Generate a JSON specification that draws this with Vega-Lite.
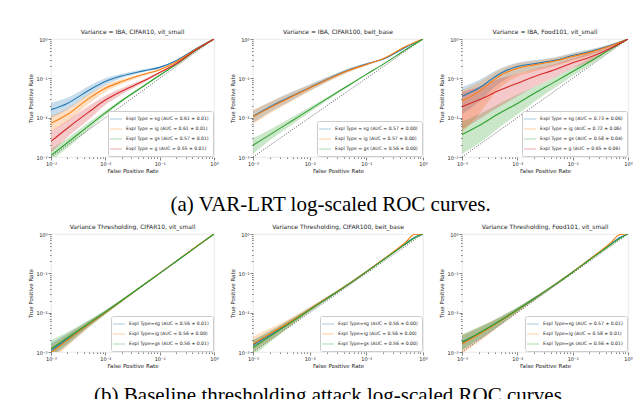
{
  "$schema": "https://vega.github.io/schema/vega-lite/v6.json",
  "background": "white",
  "padding": {"left": 28, "top": 28, "right": 0, "bottom": 0},
  "config": {
    "view": {"stroke": "#e4e4e4", "strokeWidth": 0.8},
    "font": "DejaVu Sans",
    "title": {"font": "DejaVu Sans", "fontSize": 6, "fontWeight": "normal", "offset": 2, "color": "#222"},
    "axis": {"labelFont": "DejaVu Sans", "labelFontSize": 5, "titleFont": "DejaVu Sans", "titleFontSize": 5.5, "titleFontWeight": "normal", "domain": false, "grid": false, "tickColor": "#333", "labelColor": "#222", "titleColor": "#222", "labelPadding": 1, "titlePadding": 2, "tickWidth": 0.6, "labelOverlap": false, "labelBound": false, "labelFlush": false},
    "line": {"interpolate": "monotone"},
    "area": {"interpolate": "monotone"},
    "legend": {"orient": "bottom-right", "offset": 1, "padding": 4, "strokeColor": "#cccccc", "fillColor": "white", "cornerRadius": 2, "labelFont": "DejaVu Sans", "labelFontSize": 4.6, "labelColor": "#222", "symbolType": "M-2,0H2", "symbolSize": 36, "symbolStrokeWidth": 1.5, "labelOffset": 6, "rowPadding": 3, "labelLimit": 300}
  },
  "datasets": {
    "diag": [{"f": 0.001, "t": 0.001}, {"f": 1, "t": 1}],
    "a1": [
      {"s": "Expl Type = sg (AUC = 0.61 ± 0.01)", "f": 0.001, "t": 0.016, "lo": 0.010, "hi": 0.024},
      {"s": "Expl Type = sg (AUC = 0.61 ± 0.01)", "f": 0.002, "t": 0.023, "lo": 0.016, "hi": 0.032},
      {"s": "Expl Type = sg (AUC = 0.61 ± 0.01)", "f": 0.005, "t": 0.050, "lo": 0.038, "hi": 0.064},
      {"s": "Expl Type = sg (AUC = 0.61 ± 0.01)", "f": 0.01, "t": 0.083, "lo": 0.068, "hi": 0.100},
      {"s": "Expl Type = sg (AUC = 0.61 ± 0.01)", "f": 0.02, "t": 0.115, "lo": 0.100, "hi": 0.130},
      {"s": "Expl Type = sg (AUC = 0.61 ± 0.01)", "f": 0.05, "t": 0.155, "lo": 0.145, "hi": 0.170},
      {"s": "Expl Type = sg (AUC = 0.61 ± 0.01)", "f": 0.1, "t": 0.190, "lo": 0.180, "hi": 0.200},
      {"s": "Expl Type = sg (AUC = 0.61 ± 0.01)", "f": 0.2, "t": 0.280, "lo": 0.270, "hi": 0.290},
      {"s": "Expl Type = sg (AUC = 0.61 ± 0.01)", "f": 0.5, "t": 0.600, "lo": 0.590, "hi": 0.610},
      {"s": "Expl Type = sg (AUC = 0.61 ± 0.01)", "f": 1, "t": 1, "lo": 1, "hi": 1},
      {"s": "Expl Type = ig (AUC = 0.61 ± 0.01)", "f": 0.001, "t": 0.0072, "lo": 0.0045, "hi": 0.011},
      {"s": "Expl Type = ig (AUC = 0.61 ± 0.01)", "f": 0.002, "t": 0.012, "lo": 0.008, "hi": 0.017},
      {"s": "Expl Type = ig (AUC = 0.61 ± 0.01)", "f": 0.005, "t": 0.031, "lo": 0.023, "hi": 0.040},
      {"s": "Expl Type = ig (AUC = 0.61 ± 0.01)", "f": 0.01, "t": 0.056, "lo": 0.045, "hi": 0.068},
      {"s": "Expl Type = ig (AUC = 0.61 ± 0.01)", "f": 0.02, "t": 0.083, "lo": 0.072, "hi": 0.095},
      {"s": "Expl Type = ig (AUC = 0.61 ± 0.01)", "f": 0.05, "t": 0.125, "lo": 0.115, "hi": 0.135},
      {"s": "Expl Type = ig (AUC = 0.61 ± 0.01)", "f": 0.1, "t": 0.165, "lo": 0.157, "hi": 0.175},
      {"s": "Expl Type = ig (AUC = 0.61 ± 0.01)", "f": 0.2, "t": 0.260, "lo": 0.250, "hi": 0.270},
      {"s": "Expl Type = ig (AUC = 0.61 ± 0.01)", "f": 0.5, "t": 0.580, "lo": 0.570, "hi": 0.590},
      {"s": "Expl Type = ig (AUC = 0.61 ± 0.01)", "f": 1, "t": 1, "lo": 1, "hi": 1},
      {"s": "Expl Type = gs (AUC = 0.57 ± 0.01)", "f": 0.001, "t": 0.0011, "lo": 0.0008, "hi": 0.0016},
      {"s": "Expl Type = gs (AUC = 0.57 ± 0.01)", "f": 0.002, "t": 0.0023, "lo": 0.0017, "hi": 0.0030},
      {"s": "Expl Type = gs (AUC = 0.57 ± 0.01)", "f": 0.005, "t": 0.0063, "lo": 0.0051, "hi": 0.0077},
      {"s": "Expl Type = gs (AUC = 0.57 ± 0.01)", "f": 0.01, "t": 0.0132, "lo": 0.0115, "hi": 0.0150},
      {"s": "Expl Type = gs (AUC = 0.57 ± 0.01)", "f": 0.02, "t": 0.027, "lo": 0.0245, "hi": 0.0295},
      {"s": "Expl Type = gs (AUC = 0.57 ± 0.01)", "f": 0.05, "t": 0.063, "lo": 0.059, "hi": 0.067},
      {"s": "Expl Type = gs (AUC = 0.57 ± 0.01)", "f": 0.1, "t": 0.120, "lo": 0.115, "hi": 0.125},
      {"s": "Expl Type = gs (AUC = 0.57 ± 0.01)", "f": 0.2, "t": 0.225, "lo": 0.220, "hi": 0.230},
      {"s": "Expl Type = gs (AUC = 0.57 ± 0.01)", "f": 0.5, "t": 0.550, "lo": 0.545, "hi": 0.555},
      {"s": "Expl Type = gs (AUC = 0.57 ± 0.01)", "f": 1, "t": 1, "lo": 1, "hi": 1},
      {"s": "Expl Type = g (AUC = 0.55 ± 0.01)", "f": 0.001, "t": 0.0025, "lo": 0.0013, "hi": 0.0045},
      {"s": "Expl Type = g (AUC = 0.55 ± 0.01)", "f": 0.002, "t": 0.0054, "lo": 0.0032, "hi": 0.0085},
      {"s": "Expl Type = g (AUC = 0.55 ± 0.01)", "f": 0.005, "t": 0.014, "lo": 0.009, "hi": 0.020},
      {"s": "Expl Type = g (AUC = 0.55 ± 0.01)", "f": 0.01, "t": 0.028, "lo": 0.021, "hi": 0.036},
      {"s": "Expl Type = g (AUC = 0.55 ± 0.01)", "f": 0.02, "t": 0.047, "lo": 0.039, "hi": 0.056},
      {"s": "Expl Type = g (AUC = 0.55 ± 0.01)", "f": 0.05, "t": 0.085, "lo": 0.077, "hi": 0.093},
      {"s": "Expl Type = g (AUC = 0.55 ± 0.01)", "f": 0.1, "t": 0.140, "lo": 0.132, "hi": 0.148},
      {"s": "Expl Type = g (AUC = 0.55 ± 0.01)", "f": 0.2, "t": 0.235, "lo": 0.227, "hi": 0.243},
      {"s": "Expl Type = g (AUC = 0.55 ± 0.01)", "f": 0.5, "t": 0.565, "lo": 0.555, "hi": 0.575},
      {"s": "Expl Type = g (AUC = 0.55 ± 0.01)", "f": 1, "t": 1, "lo": 1, "hi": 1}
    ],
    "a2": [
      {"s": "Expl Type = sg (AUC = 0.57 ± 0.00)", "f": 0.001, "t": 0.0107, "lo": 0.0075, "hi": 0.015},
      {"s": "Expl Type = sg (AUC = 0.57 ± 0.00)", "f": 0.002, "t": 0.019, "lo": 0.014, "hi": 0.025},
      {"s": "Expl Type = sg (AUC = 0.57 ± 0.00)", "f": 0.005, "t": 0.036, "lo": 0.028, "hi": 0.046},
      {"s": "Expl Type = sg (AUC = 0.57 ± 0.00)", "f": 0.01, "t": 0.058, "lo": 0.048, "hi": 0.070},
      {"s": "Expl Type = sg (AUC = 0.57 ± 0.00)", "f": 0.02, "t": 0.094, "lo": 0.081, "hi": 0.108},
      {"s": "Expl Type = sg (AUC = 0.57 ± 0.00)", "f": 0.05, "t": 0.165, "lo": 0.150, "hi": 0.180},
      {"s": "Expl Type = sg (AUC = 0.57 ± 0.00)", "f": 0.1, "t": 0.230, "lo": 0.215, "hi": 0.245},
      {"s": "Expl Type = sg (AUC = 0.57 ± 0.00)", "f": 0.2, "t": 0.310, "lo": 0.300, "hi": 0.320},
      {"s": "Expl Type = sg (AUC = 0.57 ± 0.00)", "f": 0.5, "t": 0.620, "lo": 0.610, "hi": 0.630},
      {"s": "Expl Type = sg (AUC = 0.57 ± 0.00)", "f": 1, "t": 1, "lo": 1, "hi": 1},
      {"s": "Expl Type = ig (AUC = 0.57 ± 0.00)", "f": 0.001, "t": 0.0105, "lo": 0.007, "hi": 0.016},
      {"s": "Expl Type = ig (AUC = 0.57 ± 0.00)", "f": 0.002, "t": 0.018, "lo": 0.013, "hi": 0.025},
      {"s": "Expl Type = ig (AUC = 0.57 ± 0.00)", "f": 0.005, "t": 0.035, "lo": 0.027, "hi": 0.045},
      {"s": "Expl Type = ig (AUC = 0.57 ± 0.00)", "f": 0.01, "t": 0.057, "lo": 0.047, "hi": 0.069},
      {"s": "Expl Type = ig (AUC = 0.57 ± 0.00)", "f": 0.02, "t": 0.091, "lo": 0.079, "hi": 0.104},
      {"s": "Expl Type = ig (AUC = 0.57 ± 0.00)", "f": 0.05, "t": 0.160, "lo": 0.145, "hi": 0.175},
      {"s": "Expl Type = ig (AUC = 0.57 ± 0.00)", "f": 0.1, "t": 0.225, "lo": 0.210, "hi": 0.240},
      {"s": "Expl Type = ig (AUC = 0.57 ± 0.00)", "f": 0.2, "t": 0.320, "lo": 0.310, "hi": 0.330},
      {"s": "Expl Type = ig (AUC = 0.57 ± 0.00)", "f": 0.5, "t": 0.650, "lo": 0.640, "hi": 0.660},
      {"s": "Expl Type = ig (AUC = 0.57 ± 0.00)", "f": 1, "t": 1, "lo": 1, "hi": 1},
      {"s": "Expl Type = gs (AUC = 0.56 ± 0.00)", "f": 0.001, "t": 0.0020, "lo": 0.0012, "hi": 0.0030},
      {"s": "Expl Type = gs (AUC = 0.56 ± 0.00)", "f": 0.002, "t": 0.0037, "lo": 0.0027, "hi": 0.0050},
      {"s": "Expl Type = gs (AUC = 0.56 ± 0.00)", "f": 0.005, "t": 0.0085, "lo": 0.0068, "hi": 0.0105},
      {"s": "Expl Type = gs (AUC = 0.56 ± 0.00)", "f": 0.01, "t": 0.016, "lo": 0.0138, "hi": 0.0185},
      {"s": "Expl Type = gs (AUC = 0.56 ± 0.00)", "f": 0.02, "t": 0.030, "lo": 0.027, "hi": 0.033},
      {"s": "Expl Type = gs (AUC = 0.56 ± 0.00)", "f": 0.05, "t": 0.068, "lo": 0.064, "hi": 0.072},
      {"s": "Expl Type = gs (AUC = 0.56 ± 0.00)", "f": 0.1, "t": 0.126, "lo": 0.121, "hi": 0.131},
      {"s": "Expl Type = gs (AUC = 0.56 ± 0.00)", "f": 0.2, "t": 0.230, "lo": 0.225, "hi": 0.235},
      {"s": "Expl Type = gs (AUC = 0.56 ± 0.00)", "f": 0.5, "t": 0.540, "lo": 0.535, "hi": 0.545},
      {"s": "Expl Type = gs (AUC = 0.56 ± 0.00)", "f": 1, "t": 1, "lo": 1, "hi": 1}
    ],
    "a3": [
      {"s": "Expl Type = sg (AUC = 0.73 ± 0.06)", "f": 0.001, "t": 0.035, "lo": 0.012, "hi": 0.060},
      {"s": "Expl Type = sg (AUC = 0.73 ± 0.06)", "f": 0.002, "t": 0.056, "lo": 0.025, "hi": 0.090},
      {"s": "Expl Type = sg (AUC = 0.73 ± 0.06)", "f": 0.005, "t": 0.135, "lo": 0.080, "hi": 0.180},
      {"s": "Expl Type = sg (AUC = 0.73 ± 0.06)", "f": 0.01, "t": 0.200, "lo": 0.130, "hi": 0.250},
      {"s": "Expl Type = sg (AUC = 0.73 ± 0.06)", "f": 0.02, "t": 0.235, "lo": 0.165, "hi": 0.290},
      {"s": "Expl Type = sg (AUC = 0.73 ± 0.06)", "f": 0.05, "t": 0.290, "lo": 0.220, "hi": 0.350},
      {"s": "Expl Type = sg (AUC = 0.73 ± 0.06)", "f": 0.1, "t": 0.380, "lo": 0.300, "hi": 0.450},
      {"s": "Expl Type = sg (AUC = 0.73 ± 0.06)", "f": 0.2, "t": 0.470, "lo": 0.390, "hi": 0.540},
      {"s": "Expl Type = sg (AUC = 0.73 ± 0.06)", "f": 0.5, "t": 0.700, "lo": 0.640, "hi": 0.750},
      {"s": "Expl Type = sg (AUC = 0.73 ± 0.06)", "f": 1, "t": 1, "lo": 1, "hi": 1},
      {"s": "Expl Type = ig (AUC = 0.72 ± 0.06)", "f": 0.001, "t": 0.026, "lo": 0.004, "hi": 0.050},
      {"s": "Expl Type = ig (AUC = 0.72 ± 0.06)", "f": 0.002, "t": 0.046, "lo": 0.012, "hi": 0.080},
      {"s": "Expl Type = ig (AUC = 0.72 ± 0.06)", "f": 0.005, "t": 0.120, "lo": 0.060, "hi": 0.170},
      {"s": "Expl Type = ig (AUC = 0.72 ± 0.06)", "f": 0.01, "t": 0.180, "lo": 0.110, "hi": 0.240},
      {"s": "Expl Type = ig (AUC = 0.72 ± 0.06)", "f": 0.02, "t": 0.220, "lo": 0.150, "hi": 0.275},
      {"s": "Expl Type = ig (AUC = 0.72 ± 0.06)", "f": 0.05, "t": 0.280, "lo": 0.210, "hi": 0.340},
      {"s": "Expl Type = ig (AUC = 0.72 ± 0.06)", "f": 0.1, "t": 0.360, "lo": 0.280, "hi": 0.430},
      {"s": "Expl Type = ig (AUC = 0.72 ± 0.06)", "f": 0.2, "t": 0.450, "lo": 0.370, "hi": 0.520},
      {"s": "Expl Type = ig (AUC = 0.72 ± 0.06)", "f": 0.5, "t": 0.680, "lo": 0.620, "hi": 0.730},
      {"s": "Expl Type = ig (AUC = 0.72 ± 0.06)", "f": 1, "t": 1, "lo": 1, "hi": 1},
      {"s": "Expl Type = gs (AUC = 0.58 ± 0.04)", "f": 0.001, "t": 0.0037, "lo": 0.0012, "hi": 0.008},
      {"s": "Expl Type = gs (AUC = 0.58 ± 0.04)", "f": 0.002, "t": 0.0062, "lo": 0.0022, "hi": 0.012},
      {"s": "Expl Type = gs (AUC = 0.58 ± 0.04)", "f": 0.005, "t": 0.0135, "lo": 0.006, "hi": 0.024},
      {"s": "Expl Type = gs (AUC = 0.58 ± 0.04)", "f": 0.01, "t": 0.023, "lo": 0.012, "hi": 0.038},
      {"s": "Expl Type = gs (AUC = 0.58 ± 0.04)", "f": 0.02, "t": 0.041, "lo": 0.025, "hi": 0.060},
      {"s": "Expl Type = gs (AUC = 0.58 ± 0.04)", "f": 0.05, "t": 0.085, "lo": 0.060, "hi": 0.110},
      {"s": "Expl Type = gs (AUC = 0.58 ± 0.04)", "f": 0.1, "t": 0.150, "lo": 0.115, "hi": 0.185},
      {"s": "Expl Type = gs (AUC = 0.58 ± 0.04)", "f": 0.2, "t": 0.260, "lo": 0.210, "hi": 0.310},
      {"s": "Expl Type = gs (AUC = 0.58 ± 0.04)", "f": 0.5, "t": 0.570, "lo": 0.510, "hi": 0.620},
      {"s": "Expl Type = gs (AUC = 0.58 ± 0.04)", "f": 1, "t": 1, "lo": 1, "hi": 1},
      {"s": "Expl Type = g (AUC = 0.65 ± 0.06)", "f": 0.001, "t": 0.019, "lo": 0.005, "hi": 0.045},
      {"s": "Expl Type = g (AUC = 0.65 ± 0.06)", "f": 0.002, "t": 0.028, "lo": 0.009, "hi": 0.060},
      {"s": "Expl Type = g (AUC = 0.65 ± 0.06)", "f": 0.005, "t": 0.051, "lo": 0.020, "hi": 0.100},
      {"s": "Expl Type = g (AUC = 0.65 ± 0.06)", "f": 0.01, "t": 0.075, "lo": 0.035, "hi": 0.130},
      {"s": "Expl Type = g (AUC = 0.65 ± 0.06)", "f": 0.02, "t": 0.110, "lo": 0.060, "hi": 0.170},
      {"s": "Expl Type = g (AUC = 0.65 ± 0.06)", "f": 0.05, "t": 0.170, "lo": 0.110, "hi": 0.230},
      {"s": "Expl Type = g (AUC = 0.65 ± 0.06)", "f": 0.1, "t": 0.250, "lo": 0.180, "hi": 0.320},
      {"s": "Expl Type = g (AUC = 0.65 ± 0.06)", "f": 0.2, "t": 0.340, "lo": 0.260, "hi": 0.420},
      {"s": "Expl Type = g (AUC = 0.65 ± 0.06)", "f": 0.5, "t": 0.600, "lo": 0.530, "hi": 0.670},
      {"s": "Expl Type = g (AUC = 0.65 ± 0.06)", "f": 1, "t": 1, "lo": 1, "hi": 1}
    ],
    "b1": [
      {"s": "Expl Type=sg (AUC = 0.56 ± 0.01)", "f": 0.001, "t": 0.0011, "lo": 0.0007, "hi": 0.0017},
      {"s": "Expl Type=sg (AUC = 0.56 ± 0.01)", "f": 0.002, "t": 0.0021, "lo": 0.0015, "hi": 0.0029},
      {"s": "Expl Type=sg (AUC = 0.56 ± 0.01)", "f": 0.005, "t": 0.0052, "lo": 0.0043, "hi": 0.0063},
      {"s": "Expl Type=sg (AUC = 0.56 ± 0.01)", "f": 0.01, "t": 0.0102, "lo": 0.0091, "hi": 0.0114},
      {"s": "Expl Type=sg (AUC = 0.56 ± 0.01)", "f": 0.02, "t": 0.0202, "lo": 0.0188, "hi": 0.0216},
      {"s": "Expl Type=sg (AUC = 0.56 ± 0.01)", "f": 0.05, "t": 0.050, "lo": 0.0485, "hi": 0.0515},
      {"s": "Expl Type=sg (AUC = 0.56 ± 0.01)", "f": 0.1, "t": 0.100, "lo": 0.098, "hi": 0.102},
      {"s": "Expl Type=sg (AUC = 0.56 ± 0.01)", "f": 0.2, "t": 0.200, "lo": 0.197, "hi": 0.203},
      {"s": "Expl Type=sg (AUC = 0.56 ± 0.01)", "f": 0.5, "t": 0.500, "lo": 0.495, "hi": 0.505},
      {"s": "Expl Type=sg (AUC = 0.56 ± 0.01)", "f": 1, "t": 1, "lo": 1, "hi": 1},
      {"s": "Expl Type=ig (AUC = 0.56 ± 0.00)", "f": 0.001, "t": 0.00095, "lo": 0.0006, "hi": 0.0015},
      {"s": "Expl Type=ig (AUC = 0.56 ± 0.00)", "f": 0.002, "t": 0.0020, "lo": 0.0014, "hi": 0.0028},
      {"s": "Expl Type=ig (AUC = 0.56 ± 0.00)", "f": 0.005, "t": 0.0051, "lo": 0.0042, "hi": 0.0062},
      {"s": "Expl Type=ig (AUC = 0.56 ± 0.00)", "f": 0.01, "t": 0.0101, "lo": 0.0090, "hi": 0.0113},
      {"s": "Expl Type=ig (AUC = 0.56 ± 0.00)", "f": 0.02, "t": 0.0201, "lo": 0.0187, "hi": 0.0215},
      {"s": "Expl Type=ig (AUC = 0.56 ± 0.00)", "f": 0.05, "t": 0.0502, "lo": 0.0487, "hi": 0.0517},
      {"s": "Expl Type=ig (AUC = 0.56 ± 0.00)", "f": 0.1, "t": 0.101, "lo": 0.099, "hi": 0.103},
      {"s": "Expl Type=ig (AUC = 0.56 ± 0.00)", "f": 0.2, "t": 0.202, "lo": 0.199, "hi": 0.205},
      {"s": "Expl Type=ig (AUC = 0.56 ± 0.00)", "f": 0.5, "t": 0.510, "lo": 0.505, "hi": 0.515},
      {"s": "Expl Type=ig (AUC = 0.56 ± 0.00)", "f": 1, "t": 1, "lo": 1, "hi": 1},
      {"s": "Expl Type=gs (AUC = 0.56 ± 0.01)", "f": 0.001, "t": 0.0012, "lo": 0.0008, "hi": 0.0020},
      {"s": "Expl Type=gs (AUC = 0.56 ± 0.01)", "f": 0.002, "t": 0.0023, "lo": 0.0016, "hi": 0.0032},
      {"s": "Expl Type=gs (AUC = 0.56 ± 0.01)", "f": 0.005, "t": 0.0054, "lo": 0.0045, "hi": 0.0065},
      {"s": "Expl Type=gs (AUC = 0.56 ± 0.01)", "f": 0.01, "t": 0.0104, "lo": 0.0093, "hi": 0.0116},
      {"s": "Expl Type=gs (AUC = 0.56 ± 0.01)", "f": 0.02, "t": 0.0204, "lo": 0.0190, "hi": 0.0218},
      {"s": "Expl Type=gs (AUC = 0.56 ± 0.01)", "f": 0.05, "t": 0.0505, "lo": 0.049, "hi": 0.052},
      {"s": "Expl Type=gs (AUC = 0.56 ± 0.01)", "f": 0.1, "t": 0.100, "lo": 0.098, "hi": 0.102},
      {"s": "Expl Type=gs (AUC = 0.56 ± 0.01)", "f": 0.2, "t": 0.200, "lo": 0.197, "hi": 0.203},
      {"s": "Expl Type=gs (AUC = 0.56 ± 0.01)", "f": 0.5, "t": 0.500, "lo": 0.495, "hi": 0.505},
      {"s": "Expl Type=gs (AUC = 0.56 ± 0.01)", "f": 1, "t": 1, "lo": 1, "hi": 1}
    ],
    "b2": [
      {"s": "Expl Type=sg (AUC = 0.56 ± 0.00)", "f": 0.001, "t": 0.0015, "lo": 0.0011, "hi": 0.0020},
      {"s": "Expl Type=sg (AUC = 0.56 ± 0.00)", "f": 0.002, "t": 0.0027, "lo": 0.0021, "hi": 0.0034},
      {"s": "Expl Type=sg (AUC = 0.56 ± 0.00)", "f": 0.005, "t": 0.0062, "lo": 0.0052, "hi": 0.0073},
      {"s": "Expl Type=sg (AUC = 0.56 ± 0.00)", "f": 0.01, "t": 0.012, "lo": 0.0107, "hi": 0.0134},
      {"s": "Expl Type=sg (AUC = 0.56 ± 0.00)", "f": 0.02, "t": 0.023, "lo": 0.021, "hi": 0.025},
      {"s": "Expl Type=sg (AUC = 0.56 ± 0.00)", "f": 0.05, "t": 0.055, "lo": 0.052, "hi": 0.058},
      {"s": "Expl Type=sg (AUC = 0.56 ± 0.00)", "f": 0.1, "t": 0.110, "lo": 0.106, "hi": 0.114},
      {"s": "Expl Type=sg (AUC = 0.56 ± 0.00)", "f": 0.2, "t": 0.225, "lo": 0.220, "hi": 0.230},
      {"s": "Expl Type=sg (AUC = 0.56 ± 0.00)", "f": 0.5, "t": 0.580, "lo": 0.570, "hi": 0.590},
      {"s": "Expl Type=sg (AUC = 0.56 ± 0.00)", "f": 0.7, "t": 0.820, "lo": 0.810, "hi": 0.830},
      {"s": "Expl Type=sg (AUC = 0.56 ± 0.00)", "f": 1, "t": 1, "lo": 1, "hi": 1},
      {"s": "Expl Type=ig (AUC = 0.56 ± 0.00)", "f": 0.001, "t": 0.0016, "lo": 0.0010, "hi": 0.0025},
      {"s": "Expl Type=ig (AUC = 0.56 ± 0.00)", "f": 0.002, "t": 0.0029, "lo": 0.0020, "hi": 0.0040},
      {"s": "Expl Type=ig (AUC = 0.56 ± 0.00)", "f": 0.005, "t": 0.0064, "lo": 0.0050, "hi": 0.0078},
      {"s": "Expl Type=ig (AUC = 0.56 ± 0.00)", "f": 0.01, "t": 0.0122, "lo": 0.0105, "hi": 0.0140},
      {"s": "Expl Type=ig (AUC = 0.56 ± 0.00)", "f": 0.02, "t": 0.0232, "lo": 0.021, "hi": 0.0255},
      {"s": "Expl Type=ig (AUC = 0.56 ± 0.00)", "f": 0.05, "t": 0.055, "lo": 0.052, "hi": 0.058},
      {"s": "Expl Type=ig (AUC = 0.56 ± 0.00)", "f": 0.1, "t": 0.110, "lo": 0.106, "hi": 0.114},
      {"s": "Expl Type=ig (AUC = 0.56 ± 0.00)", "f": 0.2, "t": 0.228, "lo": 0.222, "hi": 0.234},
      {"s": "Expl Type=ig (AUC = 0.56 ± 0.00)", "f": 0.5, "t": 0.630, "lo": 0.620, "hi": 0.640},
      {"s": "Expl Type=ig (AUC = 0.56 ± 0.00)", "f": 0.7, "t": 0.970, "lo": 0.960, "hi": 0.980},
      {"s": "Expl Type=ig (AUC = 0.56 ± 0.00)", "f": 1, "t": 1, "lo": 1, "hi": 1},
      {"s": "Expl Type=gs (AUC = 0.56 ± 0.00)", "f": 0.001, "t": 0.0013, "lo": 0.0008, "hi": 0.0020},
      {"s": "Expl Type=gs (AUC = 0.56 ± 0.00)", "f": 0.002, "t": 0.0025, "lo": 0.0018, "hi": 0.0033},
      {"s": "Expl Type=gs (AUC = 0.56 ± 0.00)", "f": 0.005, "t": 0.0060, "lo": 0.0050, "hi": 0.0072},
      {"s": "Expl Type=gs (AUC = 0.56 ± 0.00)", "f": 0.01, "t": 0.0118, "lo": 0.0105, "hi": 0.0132},
      {"s": "Expl Type=gs (AUC = 0.56 ± 0.00)", "f": 0.02, "t": 0.0228, "lo": 0.021, "hi": 0.0248},
      {"s": "Expl Type=gs (AUC = 0.56 ± 0.00)", "f": 0.05, "t": 0.054, "lo": 0.051, "hi": 0.057},
      {"s": "Expl Type=gs (AUC = 0.56 ± 0.00)", "f": 0.1, "t": 0.109, "lo": 0.105, "hi": 0.113},
      {"s": "Expl Type=gs (AUC = 0.56 ± 0.00)", "f": 0.2, "t": 0.222, "lo": 0.217, "hi": 0.227},
      {"s": "Expl Type=gs (AUC = 0.56 ± 0.00)", "f": 0.5, "t": 0.560, "lo": 0.550, "hi": 0.570},
      {"s": "Expl Type=gs (AUC = 0.56 ± 0.00)", "f": 0.7, "t": 0.780, "lo": 0.770, "hi": 0.790},
      {"s": "Expl Type=gs (AUC = 0.56 ± 0.00)", "f": 1, "t": 1, "lo": 1, "hi": 1}
    ],
    "b3": [
      {"s": "Expl Type=sg (AUC = 0.57 ± 0.01)", "f": 0.001, "t": 0.0017, "lo": 0.0011, "hi": 0.0026},
      {"s": "Expl Type=sg (AUC = 0.57 ± 0.01)", "f": 0.002, "t": 0.0029, "lo": 0.0020, "hi": 0.0041},
      {"s": "Expl Type=sg (AUC = 0.57 ± 0.01)", "f": 0.005, "t": 0.0063, "lo": 0.0050, "hi": 0.0078},
      {"s": "Expl Type=sg (AUC = 0.57 ± 0.01)", "f": 0.01, "t": 0.0118, "lo": 0.0103, "hi": 0.0135},
      {"s": "Expl Type=sg (AUC = 0.57 ± 0.01)", "f": 0.02, "t": 0.0225, "lo": 0.0205, "hi": 0.0247},
      {"s": "Expl Type=sg (AUC = 0.57 ± 0.01)", "f": 0.05, "t": 0.054, "lo": 0.051, "hi": 0.057},
      {"s": "Expl Type=sg (AUC = 0.57 ± 0.01)", "f": 0.1, "t": 0.108, "lo": 0.104, "hi": 0.112},
      {"s": "Expl Type=sg (AUC = 0.57 ± 0.01)", "f": 0.2, "t": 0.222, "lo": 0.217, "hi": 0.227},
      {"s": "Expl Type=sg (AUC = 0.57 ± 0.01)", "f": 0.5, "t": 0.570, "lo": 0.560, "hi": 0.580},
      {"s": "Expl Type=sg (AUC = 0.57 ± 0.01)", "f": 0.7, "t": 0.800, "lo": 0.790, "hi": 0.810},
      {"s": "Expl Type=sg (AUC = 0.57 ± 0.01)", "f": 1, "t": 1, "lo": 1, "hi": 1},
      {"s": "Expl Type=ig (AUC = 0.58 ± 0.01)", "f": 0.001, "t": 0.0016, "lo": 0.0009, "hi": 0.0027},
      {"s": "Expl Type=ig (AUC = 0.58 ± 0.01)", "f": 0.002, "t": 0.0028, "lo": 0.0018, "hi": 0.0042},
      {"s": "Expl Type=ig (AUC = 0.58 ± 0.01)", "f": 0.005, "t": 0.0062, "lo": 0.0048, "hi": 0.0079},
      {"s": "Expl Type=ig (AUC = 0.58 ± 0.01)", "f": 0.01, "t": 0.0117, "lo": 0.0100, "hi": 0.0136},
      {"s": "Expl Type=ig (AUC = 0.58 ± 0.01)", "f": 0.02, "t": 0.0224, "lo": 0.0203, "hi": 0.0247},
      {"s": "Expl Type=ig (AUC = 0.58 ± 0.01)", "f": 0.05, "t": 0.054, "lo": 0.051, "hi": 0.057},
      {"s": "Expl Type=ig (AUC = 0.58 ± 0.01)", "f": 0.1, "t": 0.108, "lo": 0.104, "hi": 0.112},
      {"s": "Expl Type=ig (AUC = 0.58 ± 0.01)", "f": 0.2, "t": 0.225, "lo": 0.219, "hi": 0.231},
      {"s": "Expl Type=ig (AUC = 0.58 ± 0.01)", "f": 0.5, "t": 0.620, "lo": 0.610, "hi": 0.630},
      {"s": "Expl Type=ig (AUC = 0.58 ± 0.01)", "f": 0.7, "t": 0.960, "lo": 0.950, "hi": 0.970},
      {"s": "Expl Type=ig (AUC = 0.58 ± 0.01)", "f": 1, "t": 1, "lo": 1, "hi": 1},
      {"s": "Expl Type=gs (AUC = 0.56 ± 0.01)", "f": 0.001, "t": 0.0018, "lo": 0.0011, "hi": 0.0028},
      {"s": "Expl Type=gs (AUC = 0.56 ± 0.01)", "f": 0.002, "t": 0.0030, "lo": 0.0021, "hi": 0.0043},
      {"s": "Expl Type=gs (AUC = 0.56 ± 0.01)", "f": 0.005, "t": 0.0064, "lo": 0.0051, "hi": 0.0080},
      {"s": "Expl Type=gs (AUC = 0.56 ± 0.01)", "f": 0.01, "t": 0.0119, "lo": 0.0104, "hi": 0.0137},
      {"s": "Expl Type=gs (AUC = 0.56 ± 0.01)", "f": 0.02, "t": 0.0226, "lo": 0.0206, "hi": 0.0248},
      {"s": "Expl Type=gs (AUC = 0.56 ± 0.01)", "f": 0.05, "t": 0.054, "lo": 0.051, "hi": 0.057},
      {"s": "Expl Type=gs (AUC = 0.56 ± 0.01)", "f": 0.1, "t": 0.107, "lo": 0.103, "hi": 0.111},
      {"s": "Expl Type=gs (AUC = 0.56 ± 0.01)", "f": 0.2, "t": 0.218, "lo": 0.213, "hi": 0.223},
      {"s": "Expl Type=gs (AUC = 0.56 ± 0.01)", "f": 0.5, "t": 0.550, "lo": 0.540, "hi": 0.560},
      {"s": "Expl Type=gs (AUC = 0.56 ± 0.01)", "f": 0.7, "t": 0.760, "lo": 0.750, "hi": 0.770},
      {"s": "Expl Type=gs (AUC = 0.56 ± 0.01)", "f": 1, "t": 1, "lo": 1, "hi": 1}
    ]
  },
  "vconcat": [
    {
      "title": {"text": "(a) VAR-LRT log-scaled ROC curves.", "orient": "bottom", "anchor": "middle", "font": "Liberation Serif", "fontSize": 21, "fontWeight": "normal", "color": "black", "offset": 20},
      "spacing": 11,
      "resolve": {"scale": {"stroke": "independent", "fill": "independent"}, "legend": {"stroke": "independent", "fill": "independent"}},
      "hconcat": [
        {
          "width": 163, "height": 118,
          "title": "Variance = IBA, CIFAR10, vit_small",
          "data": {"name": "a1"},
          "encoding": {"x": {"field": "f", "type": "quantitative", "scale": {"type": "log", "domain": [0.001, 1]}, "axis": {"title": "False Positive Rate", "values": [0.001,0.002,0.003,0.004,0.005,0.006,0.007,0.008,0.009,0.01,0.02,0.03,0.04,0.05,0.06,0.07,0.08,0.09,0.1,0.2,0.3,0.4,0.5,0.6,0.7,0.8,0.9,1], "labelExpr": "datum.value == 1 ? '10⁰' : datum.value == 0.1 ? '10⁻¹' : datum.value == 0.01 ? '10⁻²' : datum.value == 0.001 ? '10⁻³' : ''", "tickSize": {"condition": {"test": "indexof([0.001,0.01,0.1,1], datum.value) >= 0", "value": 3}, "value": 1.5}}}},
          "layer": [
            {"data": {"name": "diag"}, "mark": {"type": "line", "color": "#333", "strokeDash": [1, 1.5], "strokeWidth": 0.8, "interpolate": "linear"}, "encoding": {"y": {"field": "t", "type": "quantitative", "scale": {"type": "log", "domain": [0.001, 1]}, "axis": {"title": "True Positive Rate", "values": [0.001,0.002,0.003,0.004,0.005,0.006,0.007,0.008,0.009,0.01,0.02,0.03,0.04,0.05,0.06,0.07,0.08,0.09,0.1,0.2,0.3,0.4,0.5,0.6,0.7,0.8,0.9,1], "labelExpr": "datum.value == 1 ? '10⁰' : datum.value == 0.1 ? '10⁻¹' : datum.value == 0.01 ? '10⁻²' : datum.value == 0.001 ? '10⁻³' : ''", "tickSize": {"condition": {"test": "indexof([0.001,0.01,0.1,1], datum.value) >= 0", "value": 3}, "value": 1.5}}}}},
            {"mark": {"type": "area", "opacity": 0.25, "clip": true}, "encoding": {"y": {"field": "lo", "type": "quantitative"}, "y2": {"field": "hi"}, "fill": {"field": "s", "type": "nominal", "scale": {"domain": ["Expl Type = sg (AUC = 0.61 ± 0.01)", "Expl Type = ig (AUC = 0.61 ± 0.01)", "Expl Type = gs (AUC = 0.57 ± 0.01)", "Expl Type = g (AUC = 0.55 ± 0.01)"], "range": ["#1f77b4", "#ff7f0e", "#2ca02c", "#d62728"]}, "legend": {"title": null}}}},
            {"mark": {"type": "line", "strokeWidth": 1.1, "clip": true}, "encoding": {"y": {"field": "t", "type": "quantitative"}, "stroke": {"field": "s", "type": "nominal", "scale": {"domain": ["Expl Type = sg (AUC = 0.61 ± 0.01)", "Expl Type = ig (AUC = 0.61 ± 0.01)", "Expl Type = gs (AUC = 0.57 ± 0.01)", "Expl Type = g (AUC = 0.55 ± 0.01)"], "range": ["#1f77b4", "#ff7f0e", "#2ca02c", "#d62728"]}, "legend": {"title": null}}}}
          ]
        },
        {
          "width": 170, "height": 118,
          "title": "Variance = IBA, CIFAR100, beit_base",
          "data": {"name": "a2"},
          "encoding": {"x": {"field": "f", "type": "quantitative", "scale": {"type": "log", "domain": [0.001, 1]}, "axis": {"title": "False Positive Rate", "values": [0.001,0.002,0.003,0.004,0.005,0.006,0.007,0.008,0.009,0.01,0.02,0.03,0.04,0.05,0.06,0.07,0.08,0.09,0.1,0.2,0.3,0.4,0.5,0.6,0.7,0.8,0.9,1], "labelExpr": "datum.value == 1 ? '10⁰' : datum.value == 0.1 ? '10⁻¹' : datum.value == 0.01 ? '10⁻²' : datum.value == 0.001 ? '10⁻³' : ''", "tickSize": {"condition": {"test": "indexof([0.001,0.01,0.1,1], datum.value) >= 0", "value": 3}, "value": 1.5}}}},
          "layer": [
            {"data": {"name": "diag"}, "mark": {"type": "line", "color": "#333", "strokeDash": [1, 1.5], "strokeWidth": 0.8, "interpolate": "linear"}, "encoding": {"y": {"field": "t", "type": "quantitative", "scale": {"type": "log", "domain": [0.001, 1]}, "axis": {"title": "True Positive Rate", "values": [0.001,0.002,0.003,0.004,0.005,0.006,0.007,0.008,0.009,0.01,0.02,0.03,0.04,0.05,0.06,0.07,0.08,0.09,0.1,0.2,0.3,0.4,0.5,0.6,0.7,0.8,0.9,1], "labelExpr": "datum.value == 1 ? '10⁰' : datum.value == 0.1 ? '10⁻¹' : datum.value == 0.01 ? '10⁻²' : datum.value == 0.001 ? '10⁻³' : ''", "tickSize": {"condition": {"test": "indexof([0.001,0.01,0.1,1], datum.value) >= 0", "value": 3}, "value": 1.5}}}}},
            {"mark": {"type": "area", "opacity": 0.25, "clip": true}, "encoding": {"y": {"field": "lo", "type": "quantitative"}, "y2": {"field": "hi"}, "fill": {"field": "s", "type": "nominal", "scale": {"domain": ["Expl Type = sg (AUC = 0.57 ± 0.00)", "Expl Type = ig (AUC = 0.57 ± 0.00)", "Expl Type = gs (AUC = 0.56 ± 0.00)"], "range": ["#1f77b4", "#ff7f0e", "#2ca02c"]}, "legend": {"title": null}}}},
            {"mark": {"type": "line", "strokeWidth": 1.1, "clip": true}, "encoding": {"y": {"field": "t", "type": "quantitative"}, "stroke": {"field": "s", "type": "nominal", "scale": {"domain": ["Expl Type = sg (AUC = 0.57 ± 0.00)", "Expl Type = ig (AUC = 0.57 ± 0.00)", "Expl Type = gs (AUC = 0.56 ± 0.00)"], "range": ["#1f77b4", "#ff7f0e", "#2ca02c"]}, "legend": {"title": null}}}}
          ]
        },
        {
          "width": 166, "height": 118,
          "title": "Variance = IBA, Food101, vit_small",
          "data": {"name": "a3"},
          "encoding": {"x": {"field": "f", "type": "quantitative", "scale": {"type": "log", "domain": [0.001, 1]}, "axis": {"title": "False Positive Rate", "values": [0.001,0.002,0.003,0.004,0.005,0.006,0.007,0.008,0.009,0.01,0.02,0.03,0.04,0.05,0.06,0.07,0.08,0.09,0.1,0.2,0.3,0.4,0.5,0.6,0.7,0.8,0.9,1], "labelExpr": "datum.value == 1 ? '10⁰' : datum.value == 0.1 ? '10⁻¹' : datum.value == 0.01 ? '10⁻²' : datum.value == 0.001 ? '10⁻³' : ''", "tickSize": {"condition": {"test": "indexof([0.001,0.01,0.1,1], datum.value) >= 0", "value": 3}, "value": 1.5}}}},
          "layer": [
            {"data": {"name": "diag"}, "mark": {"type": "line", "color": "#333", "strokeDash": [1, 1.5], "strokeWidth": 0.8, "interpolate": "linear"}, "encoding": {"y": {"field": "t", "type": "quantitative", "scale": {"type": "log", "domain": [0.001, 1]}, "axis": {"title": "True Positive Rate", "values": [0.001,0.002,0.003,0.004,0.005,0.006,0.007,0.008,0.009,0.01,0.02,0.03,0.04,0.05,0.06,0.07,0.08,0.09,0.1,0.2,0.3,0.4,0.5,0.6,0.7,0.8,0.9,1], "labelExpr": "datum.value == 1 ? '10⁰' : datum.value == 0.1 ? '10⁻¹' : datum.value == 0.01 ? '10⁻²' : datum.value == 0.001 ? '10⁻³' : ''", "tickSize": {"condition": {"test": "indexof([0.001,0.01,0.1,1], datum.value) >= 0", "value": 3}, "value": 1.5}}}}},
            {"mark": {"type": "area", "opacity": 0.25, "clip": true}, "encoding": {"y": {"field": "lo", "type": "quantitative"}, "y2": {"field": "hi"}, "fill": {"field": "s", "type": "nominal", "scale": {"domain": ["Expl Type = sg (AUC = 0.73 ± 0.06)", "Expl Type = ig (AUC = 0.72 ± 0.06)", "Expl Type = gs (AUC = 0.58 ± 0.04)", "Expl Type = g (AUC = 0.65 ± 0.06)"], "range": ["#1f77b4", "#ff7f0e", "#2ca02c", "#d62728"]}, "legend": {"title": null}}}},
            {"mark": {"type": "line", "strokeWidth": 1.1, "clip": true}, "encoding": {"y": {"field": "t", "type": "quantitative"}, "stroke": {"field": "s", "type": "nominal", "scale": {"domain": ["Expl Type = sg (AUC = 0.73 ± 0.06)", "Expl Type = ig (AUC = 0.72 ± 0.06)", "Expl Type = gs (AUC = 0.58 ± 0.04)", "Expl Type = g (AUC = 0.65 ± 0.06)"], "range": ["#1f77b4", "#ff7f0e", "#2ca02c", "#d62728"]}, "legend": {"title": null}}}}
          ]
        }
      ]
    },
    {
      "title": {"text": "(b) Baseline thresholding attack log-scaled ROC curves.", "orient": "bottom", "anchor": "middle", "font": "Liberation Serif", "fontSize": 21, "fontWeight": "normal", "color": "black", "offset": 16},
      "spacing": 11,
      "resolve": {"scale": {"stroke": "independent", "fill": "independent"}, "legend": {"stroke": "independent", "fill": "independent"}},
      "hconcat": [
        {
          "width": 163, "height": 118,
          "title": "Variance Thresholding, CIFAR10, vit_small",
          "data": {"name": "b1"},
          "encoding": {"x": {"field": "f", "type": "quantitative", "scale": {"type": "log", "domain": [0.001, 1]}, "axis": {"title": "False Positive Rate", "values": [0.001,0.002,0.003,0.004,0.005,0.006,0.007,0.008,0.009,0.01,0.02,0.03,0.04,0.05,0.06,0.07,0.08,0.09,0.1,0.2,0.3,0.4,0.5,0.6,0.7,0.8,0.9,1], "labelExpr": "datum.value == 1 ? '10⁰' : datum.value == 0.1 ? '10⁻¹' : datum.value == 0.01 ? '10⁻²' : datum.value == 0.001 ? '10⁻³' : ''", "tickSize": {"condition": {"test": "indexof([0.001,0.01,0.1,1], datum.value) >= 0", "value": 3}, "value": 1.5}}}},
          "layer": [
            {"data": {"name": "diag"}, "mark": {"type": "line", "color": "#333", "strokeDash": [1, 1.5], "strokeWidth": 0.8, "interpolate": "linear"}, "encoding": {"y": {"field": "t", "type": "quantitative", "scale": {"type": "log", "domain": [0.001, 1]}, "axis": {"title": "True Positive Rate", "values": [0.001,0.002,0.003,0.004,0.005,0.006,0.007,0.008,0.009,0.01,0.02,0.03,0.04,0.05,0.06,0.07,0.08,0.09,0.1,0.2,0.3,0.4,0.5,0.6,0.7,0.8,0.9,1], "labelExpr": "datum.value == 1 ? '10⁰' : datum.value == 0.1 ? '10⁻¹' : datum.value == 0.01 ? '10⁻²' : datum.value == 0.001 ? '10⁻³' : ''", "tickSize": {"condition": {"test": "indexof([0.001,0.01,0.1,1], datum.value) >= 0", "value": 3}, "value": 1.5}}}}},
            {"mark": {"type": "area", "opacity": 0.25, "clip": true}, "encoding": {"y": {"field": "lo", "type": "quantitative"}, "y2": {"field": "hi"}, "fill": {"field": "s", "type": "nominal", "scale": {"domain": ["Expl Type=sg (AUC = 0.56 ± 0.01)", "Expl Type=ig (AUC = 0.56 ± 0.00)", "Expl Type=gs (AUC = 0.56 ± 0.01)"], "range": ["#1f77b4", "#ff7f0e", "#2ca02c"]}, "legend": {"title": null}}}},
            {"mark": {"type": "line", "strokeWidth": 1.1, "clip": true}, "encoding": {"y": {"field": "t", "type": "quantitative"}, "stroke": {"field": "s", "type": "nominal", "scale": {"domain": ["Expl Type=sg (AUC = 0.56 ± 0.01)", "Expl Type=ig (AUC = 0.56 ± 0.00)", "Expl Type=gs (AUC = 0.56 ± 0.01)"], "range": ["#1f77b4", "#ff7f0e", "#2ca02c"]}, "legend": {"title": null}}}},
            {"data": {"values": [{}]}, "mark": {"type": "rule", "color": "black", "strokeWidth": 1.5}, "encoding": {"y": {"datum": 1}}}
          ]
        },
        {
          "width": 170, "height": 118,
          "title": "Variance Thresholding, CIFAR100, beit_base",
          "data": {"name": "b2"},
          "encoding": {"x": {"field": "f", "type": "quantitative", "scale": {"type": "log", "domain": [0.001, 1]}, "axis": {"title": "False Positive Rate", "values": [0.001,0.002,0.003,0.004,0.005,0.006,0.007,0.008,0.009,0.01,0.02,0.03,0.04,0.05,0.06,0.07,0.08,0.09,0.1,0.2,0.3,0.4,0.5,0.6,0.7,0.8,0.9,1], "labelExpr": "datum.value == 1 ? '10⁰' : datum.value == 0.1 ? '10⁻¹' : datum.value == 0.01 ? '10⁻²' : datum.value == 0.001 ? '10⁻³' : ''", "tickSize": {"condition": {"test": "indexof([0.001,0.01,0.1,1], datum.value) >= 0", "value": 3}, "value": 1.5}}}},
          "layer": [
            {"data": {"name": "diag"}, "mark": {"type": "line", "color": "#333", "strokeDash": [1, 1.5], "strokeWidth": 0.8, "interpolate": "linear"}, "encoding": {"y": {"field": "t", "type": "quantitative", "scale": {"type": "log", "domain": [0.001, 1]}, "axis": {"title": "True Positive Rate", "values": [0.001,0.002,0.003,0.004,0.005,0.006,0.007,0.008,0.009,0.01,0.02,0.03,0.04,0.05,0.06,0.07,0.08,0.09,0.1,0.2,0.3,0.4,0.5,0.6,0.7,0.8,0.9,1], "labelExpr": "datum.value == 1 ? '10⁰' : datum.value == 0.1 ? '10⁻¹' : datum.value == 0.01 ? '10⁻²' : datum.value == 0.001 ? '10⁻³' : ''", "tickSize": {"condition": {"test": "indexof([0.001,0.01,0.1,1], datum.value) >= 0", "value": 3}, "value": 1.5}}}}},
            {"mark": {"type": "area", "opacity": 0.25, "clip": true}, "encoding": {"y": {"field": "lo", "type": "quantitative"}, "y2": {"field": "hi"}, "fill": {"field": "s", "type": "nominal", "scale": {"domain": ["Expl Type=sg (AUC = 0.56 ± 0.00)", "Expl Type=ig (AUC = 0.56 ± 0.00)", "Expl Type=gs (AUC = 0.56 ± 0.00)"], "range": ["#1f77b4", "#ff7f0e", "#2ca02c"]}, "legend": {"title": null}}}},
            {"mark": {"type": "line", "strokeWidth": 1.1, "clip": true}, "encoding": {"y": {"field": "t", "type": "quantitative"}, "stroke": {"field": "s", "type": "nominal", "scale": {"domain": ["Expl Type=sg (AUC = 0.56 ± 0.00)", "Expl Type=ig (AUC = 0.56 ± 0.00)", "Expl Type=gs (AUC = 0.56 ± 0.00)"], "range": ["#1f77b4", "#ff7f0e", "#2ca02c"]}, "legend": {"title": null}}}},
            {"data": {"values": [{}]}, "mark": {"type": "rule", "color": "black", "strokeWidth": 1.5}, "encoding": {"y": {"datum": 1}}}
          ]
        },
        {
          "width": 166, "height": 118,
          "title": "Variance Thresholding, Food101, vit_small",
          "data": {"name": "b3"},
          "encoding": {"x": {"field": "f", "type": "quantitative", "scale": {"type": "log", "domain": [0.001, 1]}, "axis": {"title": "False Positive Rate", "values": [0.001,0.002,0.003,0.004,0.005,0.006,0.007,0.008,0.009,0.01,0.02,0.03,0.04,0.05,0.06,0.07,0.08,0.09,0.1,0.2,0.3,0.4,0.5,0.6,0.7,0.8,0.9,1], "labelExpr": "datum.value == 1 ? '10⁰' : datum.value == 0.1 ? '10⁻¹' : datum.value == 0.01 ? '10⁻²' : datum.value == 0.001 ? '10⁻³' : ''", "tickSize": {"condition": {"test": "indexof([0.001,0.01,0.1,1], datum.value) >= 0", "value": 3}, "value": 1.5}}}},
          "layer": [
            {"data": {"name": "diag"}, "mark": {"type": "line", "color": "#333", "strokeDash": [1, 1.5], "strokeWidth": 0.8, "interpolate": "linear"}, "encoding": {"y": {"field": "t", "type": "quantitative", "scale": {"type": "log", "domain": [0.001, 1]}, "axis": {"title": "True Positive Rate", "values": [0.001,0.002,0.003,0.004,0.005,0.006,0.007,0.008,0.009,0.01,0.02,0.03,0.04,0.05,0.06,0.07,0.08,0.09,0.1,0.2,0.3,0.4,0.5,0.6,0.7,0.8,0.9,1], "labelExpr": "datum.value == 1 ? '10⁰' : datum.value == 0.1 ? '10⁻¹' : datum.value == 0.01 ? '10⁻²' : datum.value == 0.001 ? '10⁻³' : ''", "tickSize": {"condition": {"test": "indexof([0.001,0.01,0.1,1], datum.value) >= 0", "value": 3}, "value": 1.5}}}}},
            {"mark": {"type": "area", "opacity": 0.25, "clip": true}, "encoding": {"y": {"field": "lo", "type": "quantitative"}, "y2": {"field": "hi"}, "fill": {"field": "s", "type": "nominal", "scale": {"domain": ["Expl Type=sg (AUC = 0.57 ± 0.01)", "Expl Type=ig (AUC = 0.58 ± 0.01)", "Expl Type=gs (AUC = 0.56 ± 0.01)"], "range": ["#1f77b4", "#ff7f0e", "#2ca02c"]}, "legend": {"title": null}}}},
            {"mark": {"type": "line", "strokeWidth": 1.1, "clip": true}, "encoding": {"y": {"field": "t", "type": "quantitative"}, "stroke": {"field": "s", "type": "nominal", "scale": {"domain": ["Expl Type=sg (AUC = 0.57 ± 0.01)", "Expl Type=ig (AUC = 0.58 ± 0.01)", "Expl Type=gs (AUC = 0.56 ± 0.01)"], "range": ["#1f77b4", "#ff7f0e", "#2ca02c"]}, "legend": {"title": null}}}},
            {"data": {"values": [{}]}, "mark": {"type": "rule", "color": "black", "strokeWidth": 1.5}, "encoding": {"y": {"datum": 1}}}
          ]
        }
      ]
    }
  ],
  "spacing": 8
}
